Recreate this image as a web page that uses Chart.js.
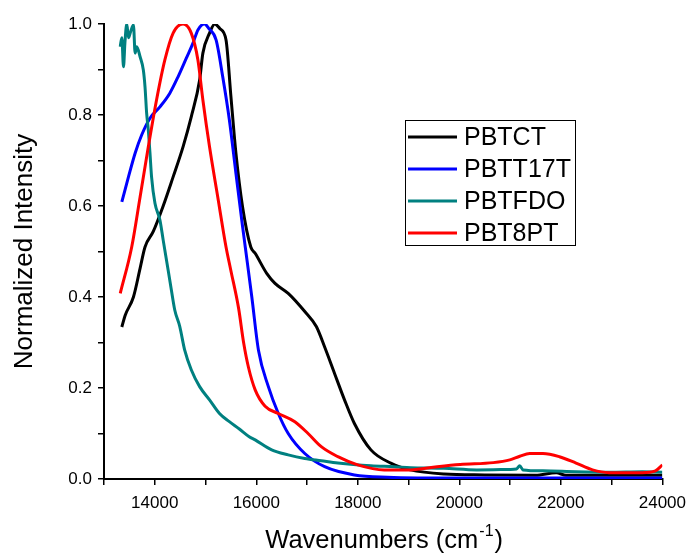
<!DOCTYPE html>
<html>
<head>
<meta charset="utf-8">
<title>Normalized emission spectra</title>
<script src="https://cdn.jsdelivr.net/npm/chart.js@4.4.1/dist/chart.umd.min.js"></script>
<style>
  body { margin: 0; background: #fff; }
  canvas { display: block; }
</style>
</head>
<body>
<canvas id="spectraChart" width="694" height="554"></canvas>
<script>
// wavenumber (cm-1) and normalized intensity for each polymer
const pbtctX = [13351, 13418, 13580, 13711, 13808, 13971, 14166, 14362, 14557, 14719, 14884, 14948, 15079, 15183, 15281, 15404, 15501, 15599, 15730, 15892, 15978, 16205, 16369, 16629, 16956, 17183, 17347, 17542, 17738, 17933, 18258, 18649, 19034, 19699, 20500, 21500, 21910, 22100, 23000, 24000];
const pbtctY = [0.334, 0.36, 0.40, 0.463, 0.51, 0.544, 0.60, 0.664, 0.73, 0.796, 0.877, 0.936, 0.98, 1.0, 0.99, 0.965, 0.84, 0.716, 0.598, 0.51, 0.496, 0.452, 0.43, 0.408, 0.368, 0.335, 0.29, 0.232, 0.174, 0.122, 0.064, 0.035, 0.02, 0.011, 0.009, 0.008, 0.014, 0.008, 0.008, 0.008];

const pbtt17tX = [13351, 13482, 13613, 13742, 13906, 14102, 14297, 14459, 14622, 14753, 14850, 14981, 15065, 15208, 15339, 15470, 15599, 15730, 15783, 15912, 16043, 16238, 16434, 16629, 16956, 17347, 17933, 18584, 20000, 24000];
const pbtt17tY = [0.609, 0.664, 0.716, 0.756, 0.793, 0.818, 0.848, 0.884, 0.925, 0.958, 0.987, 1.0, 0.99, 0.965, 0.884, 0.789, 0.672, 0.555, 0.51, 0.40, 0.283, 0.203, 0.144, 0.10, 0.056, 0.027, 0.009, 0.004, 0.002, 0.002];

const pbtfdoX = [13320, 13351, 13384, 13413, 13449, 13482, 13515, 13580, 13613, 13645, 13711, 13775, 13808, 13840, 13873, 13906, 13937, 14004, 14102, 14166, 14264, 14328, 14395, 14493, 14590, 14719, 14884, 15079, 15275, 15470, 15666, 15861, 15978, 16303, 16629, 16956, 17280, 17607, 18258, 18715, 19040, 19693, 20344, 20995, 21126, 21190, 21256, 21648, 22299, 22950, 23603, 24000];
const pbtfdoY = [0.95, 0.97, 0.906, 0.96, 1.0, 0.97, 0.98, 0.998, 0.936, 0.95, 0.928, 0.899, 0.862, 0.804, 0.767, 0.716, 0.664, 0.606, 0.569, 0.525, 0.459, 0.415, 0.371, 0.335, 0.283, 0.24, 0.203, 0.174, 0.144, 0.126, 0.11, 0.093, 0.086, 0.064, 0.053, 0.045, 0.04, 0.035, 0.029, 0.027, 0.025, 0.0235, 0.02, 0.021, 0.022, 0.029, 0.02, 0.018, 0.016, 0.015, 0.016, 0.015];

const pbt8ptX = [13320, 13546, 13711, 13873, 14035, 14199, 14362, 14557, 14719, 14850, 14948, 15079, 15241, 15404, 15496, 15652, 15750, 15847, 15978, 16174, 16434, 16760, 17020, 17280, 17607, 17998, 18520, 19040, 19562, 20017, 20670, 20995, 21190, 21386, 21648, 21972, 22299, 22625, 22950, 23603, 23863, 24000];
const pbt8ptY = [0.408, 0.51, 0.62, 0.73, 0.833, 0.921, 0.98, 1.0, 0.98, 0.921, 0.833, 0.73, 0.62, 0.51, 0.46, 0.375, 0.30, 0.245, 0.196, 0.16, 0.144, 0.126, 0.10, 0.071, 0.049, 0.031, 0.02, 0.02, 0.027, 0.032, 0.036, 0.042, 0.05, 0.056, 0.056, 0.049, 0.035, 0.02, 0.014, 0.014, 0.018, 0.031];

const seriesNames = ['PBTCT', 'PBTT17T', 'PBTFDO', 'PBT8PT'];
const xTickValues = [13000, 14000, 15000, 16000, 17000, 18000, 19000, 20000, 21000, 22000, 23000, 24000];
const yTickValues = [0, 0.1, 0.2, 0.3, 0.4, 0.5, 0.6, 0.7, 0.8, 0.9, 1.0];

const seriesColors = ['#000000', '#0000ff', '#008080', '#ff0000'];
const fontFamily = '"Liberation Sans", Arial, sans-serif';

const toPoints = (xs, ys) => xs.map((x, i) => ({ x, y: ys[i] }));

// boxed legend inside the plot, top right
const boxLegend = {
  id: 'boxLegend',
  afterDatasetsDraw(chart) {
    const ctx = chart.ctx;
    const left = 405, top = 120, w = 170, h = 125;
    ctx.save();
    ctx.fillStyle = '#fff';
    ctx.fillRect(left, top, w, h);
    ctx.strokeStyle = '#000';
    ctx.lineWidth = 1;
    ctx.strokeRect(left + 0.5, top + 0.5, w, h);
    ctx.font = '25px ' + fontFamily;
    ctx.textBaseline = 'middle';
    ctx.textAlign = 'left';
    chart.data.datasets.forEach((ds, i) => {
      const y = top + 17 + i * 32;
      ctx.strokeStyle = ds.borderColor;
      ctx.lineWidth = 3;
      ctx.beginPath();
      ctx.moveTo(left + 3, y);
      ctx.lineTo(left + 52, y);
      ctx.stroke();
      ctx.fillStyle = '#000';
      ctx.fillText(ds.label, left + 59, y + 1);
    });
    ctx.restore();
  }
};

// x title with a raised "-1"
const xTitle = {
  id: 'xTitle',
  afterDraw(chart) {
    const ctx = chart.ctx;
    const area = chart.chartArea;
    const big = '25.5px ' + fontFamily;
    const small = '16px ' + fontFamily;
    const head = 'Wavenumbers (cm', sup = '-1', tail = ')';
    ctx.save();
    ctx.font = big;
    const w1 = ctx.measureText(head).width;
    const w3 = ctx.measureText(tail).width;
    ctx.font = small;
    const w2 = ctx.measureText(sup).width;
    let x = (area.left + area.right) / 2 - (w1 + w2 + w3) / 2;
    const y = chart.height - 6;
    ctx.fillStyle = '#000';
    ctx.textAlign = 'left';
    ctx.textBaseline = 'alphabetic';
    ctx.font = big;
    ctx.fillText(head, x, y);
    x += w1;
    ctx.font = small;
    ctx.fillText(sup, x + 1, y - 12);
    x += w2 + 2;
    ctx.font = big;
    ctx.fillText(tail, x, y);
    ctx.restore();
  }
};

const seriesData = [
  toPoints(pbtctX, pbtctY),
  toPoints(pbtt17tX, pbtt17tY),
  toPoints(pbtfdoX, pbtfdoY),
  toPoints(pbt8ptX, pbt8ptY)
];

new Chart(document.getElementById('spectraChart').getContext('2d'), {
  type: 'line',
  data: {
    datasets: seriesNames.map((name, i) => ({
      label: name,
      data: seriesData[i],
      borderColor: seriesColors[i],
      borderWidth: 3,
      pointRadius: 0,
      cubicInterpolationMode: 'monotone',
      order: 4 - i,
      fill: false
    }))
  },
  options: {
    responsive: false,
    animation: false,
    layout: { padding: { top: 24, right: 27, left: 0, bottom: 0 } },
    plugins: {
      legend: { display: false },
      tooltip: { enabled: false }
    },
    scales: {
      x: {
        type: 'linear',
        min: 13000,
        max: 24000,
        afterBuildTicks: (s) => { s.ticks = xTickValues.map((v) => ({ value: v })); },
        afterFit: (s) => { s.height = 75; },
        ticks: {
          autoSkip: false,
          maxRotation: 0,
          padding: 8,
          color: '#000',
          font: { size: 17, family: fontFamily },
          callback: (v) => (v % 2000 === 0 ? String(v) : '')
        },
        grid: { drawOnChartArea: false, tickLength: 6, color: '#000', lineWidth: 1.5 },
        border: { color: '#000', width: 2 }
      },
      y: {
        min: 0,
        max: 1,
        afterBuildTicks: (s) => { s.ticks = yTickValues.map((v) => ({ value: v })); },
        afterFit: (s) => { s.width = 104; },
        ticks: {
          padding: 6,
          color: '#000',
          font: { size: 17, family: fontFamily },
          callback: (v) => (Math.round(v * 10) % 2 === 0 ? v.toFixed(1) : '')
        },
        grid: { drawOnChartArea: false, tickLength: 6, color: '#000', lineWidth: 1.5 },
        border: { color: '#000', width: 2 },
        title: {
          display: true,
          text: 'Normalized Intensity',
          color: '#000',
          font: { size: 26, family: fontFamily },
          padding: { top: 9, bottom: 0 }
        }
      }
    }
  },
  plugins: [boxLegend, xTitle]
});
</script>
</body>
</html>
